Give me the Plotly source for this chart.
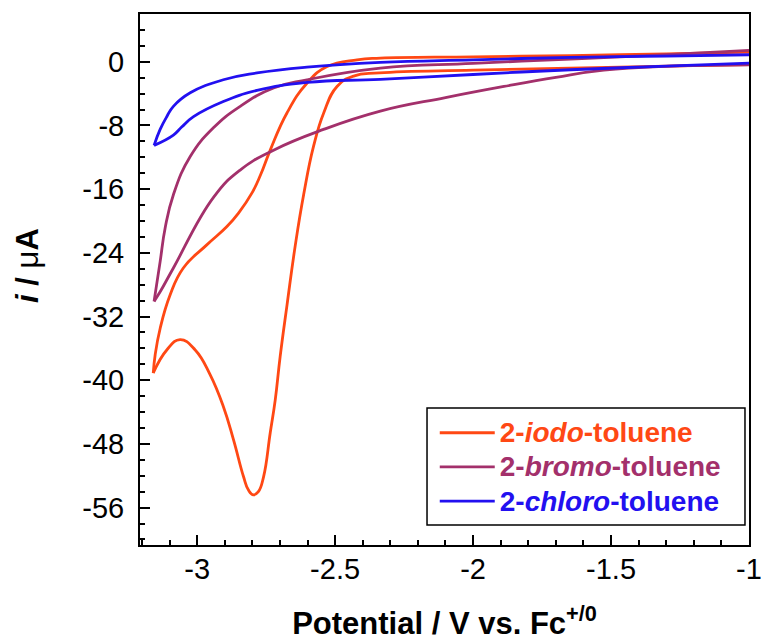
import plotly.graph_objects as go

# Cyclic voltammograms of 2-halotoluenes.
# Each sweep: potential E (V vs. Fc+/0) and current I (uA).
# Forward sweep runs cathodically from -1.0 V to the vertex, reverse sweep returns.

IODO_E_FWD = [-1.00, -1.30, -1.65, -2.00, -2.34, -2.433, -2.493, -2.541, -2.578, -2.614,
              -2.644, -2.674, -2.699, -2.717, -2.735, -2.759, -2.778, -2.796, -2.814,
              -2.832, -2.868, -2.905, -2.953, -3.007, -3.062, -3.110, -3.159]
IODO_I_FWD = [-0.35, -0.55, -0.80, -1.05, -1.40, -1.80, -3.10, -6.40, -10.6, -16.7,
              -23.0, -30.5, -37.0, -42.5, -46.6, -52.1, -54.0, -54.4, -53.8,
              -52.1, -47.5, -43.3, -39.3, -36.2, -34.9, -36.2, -39.1]
IODO_E_REV = [-3.159, -3.152, -3.134, -3.098, -3.050, -2.965, -2.892, -2.850, -2.800,
              -2.770, -2.735, -2.674, -2.602, -2.529, -2.420, -2.336, -2.000, -1.646,
              -1.300, -1.000]
IODO_I_REV = [-39.1, -36.8, -33.5, -29.3, -25.9, -23.0, -20.7, -19.0, -16.4,
              -14.2, -11.1, -6.4, -2.7, -0.6, 0.25, 0.46, 0.62, 0.78,
              1.00, 1.20]

BROMO_E_FWD = [-1.000, -1.283, -1.526, -1.700, -1.888, -2.100, -2.336, -2.542, -2.723,
               -2.844, -2.940, -3.086, -3.134, -3.156]
BROMO_I_FWD = [-0.38, -0.55, -1.05, -1.95, -3.10, -4.50, -6.20, -8.50, -11.1,
               -13.6, -17.0, -25.9, -28.9, -30.1]
BROMO_E_REV = [-3.156, -3.134, -3.116, -3.086, -3.025, -2.941, -2.844, -2.723, -2.602,
               -2.336, -2.000, -1.646, -1.300, -1.000]
BROMO_I_REV = [-30.1, -25.1, -20.9, -16.7, -11.9, -8.3, -5.6, -3.3, -2.26,
               -0.80, -0.20, 0.35, 0.90, 1.42]

CHLORO_E_FWD = [-1.000, -1.300, -1.646, -2.000, -2.336, -2.602, -2.783, -2.905, -3.013,
                -3.056, -3.086, -3.156]
CHLORO_I_FWD = [-0.17, -0.55, -1.00, -1.60, -2.20, -2.60, -3.60, -5.00, -6.90,
                -8.20, -9.20, -10.5]
CHLORO_E_REV = [-3.156, -3.134, -3.110, -3.086, -3.025, -2.905, -2.783, -2.602, -2.336,
                -2.000, -1.646, -1.300, -1.000]
CHLORO_I_REV = [-10.5, -8.5, -6.9, -5.6, -3.9, -2.26, -1.40, -0.67, -0.08,
                0.25, 0.55, 0.72, 0.88]

SERIES_NAMES = ["2-<i>iodo</i>-toluene", "2-<i>bromo</i>-toluene", "2-<i>chloro</i>-toluene"]
SERIES_COLORS = ["#FF4814", "#A3306B", "#2210F0"]

X_TICKS = [-3, -2.5, -2, -1.5, -1]
X_TICK_TEXT = ["-3", "-2.5", "-2", "-1.5", "-1"]
Y_TICKS = [0, -8, -16, -24, -32, -40, -48, -56]
Y_TICK_TEXT = ["0", "-8", "-16", "-24", "-32", "-40", "-48", "-56"]

FONT = "Liberation Sans, Arial, sans-serif"

sweeps = [
    (IODO_E_FWD, IODO_I_FWD, IODO_E_REV, IODO_I_REV),
    (BROMO_E_FWD, BROMO_I_FWD, BROMO_E_REV, BROMO_I_REV),
    (CHLORO_E_FWD, CHLORO_I_FWD, CHLORO_E_REV, CHLORO_I_REV),
]

fig = go.Figure()
for k, (ef, jf, er, jr) in enumerate(sweeps):
    color = SERIES_COLORS[k]
    label = (f"<span style='font-size:28px'><b><span style='color:{color}'>"
             f"{SERIES_NAMES[k]}</span></b></span>")
    for part, (ex, jy) in enumerate([(ef, jf), (er, jr)]):
        fig.add_trace(go.Scatter(
            x=ex, y=jy, mode="lines",
            line=dict(color=color, width=2.8, shape="spline", smoothing=1.3),
            name=label, legendgroup=f"g{k}", showlegend=(part == 0),
            hoverinfo="skip",
        ))

axis_common = dict(
    showline=True, linecolor="black", linewidth=2, mirror=True,
    ticks="inside", ticklen=10, tickwidth=2, tickcolor="black",
    showgrid=False, zeroline=False, ticklabeloverflow="allow",
    tickfont=dict(family=FONT, size=29, color="black"),
)

fig.update_xaxes(
    range=[-3.207, -1.0], tickmode="array", tickvals=X_TICKS, ticktext=X_TICK_TEXT,
    minor=dict(tickmode="linear", tick0=0, dtick=0.1, ticks="inside", ticklen=5,
               tickwidth=2, tickcolor="black"),
    ticklabelstandoff=-3,
    title=dict(text="<b>Potential / V vs. Fc<sup>+/0</sup></b>",
               font=dict(family=FONT, size=31, color="black"), standoff=32),
    **axis_common,
)
fig.update_yaxes(
    range=[-60.7, 6.0], tickmode="array", tickvals=Y_TICKS, ticktext=Y_TICK_TEXT,
    minor=dict(tickmode="linear", tick0=0, dtick=2, ticks="inside", ticklen=5,
               tickwidth=2, tickcolor="black"),
    ticklabelstandoff=8,
    **axis_common,
)

# y-axis title, placed left of the tick labels
fig.add_annotation(
    text="<b><i>i</i> / </b>\u03bc<b>A</b>", textangle=-90,
    xref="paper", yref="paper", x=-0.186, y=0.527,
    xanchor="center", yanchor="middle", showarrow=False,
    font=dict(family=FONT, size=31, color="black"),
)

# legend frame
fig.add_shape(
    type="rect", xref="paper", yref="paper",
    x0=0.4713, x1=0.9934, y0=0.0377, y1=0.258,
    line=dict(color="black", width=1.5), fillcolor="white", layer="above",
)

fig.update_layout(
    width=761, height=641,
    margin=dict(l=140, r=12, t=14, b=96, autoexpand=False),
    paper_bgcolor="white", plot_bgcolor="white",
    font=dict(family=FONT, color="black"),
    showlegend=True,
    legend=dict(
        x=0.484, xanchor="left", y=0.253, yanchor="top",
        bgcolor="rgba(0,0,0,0)", borderwidth=0,
        font=dict(family=FONT, size=24),
        itemwidth=55, tracegroupgap=0,
    ),
)

fig.write_html("out.html")
